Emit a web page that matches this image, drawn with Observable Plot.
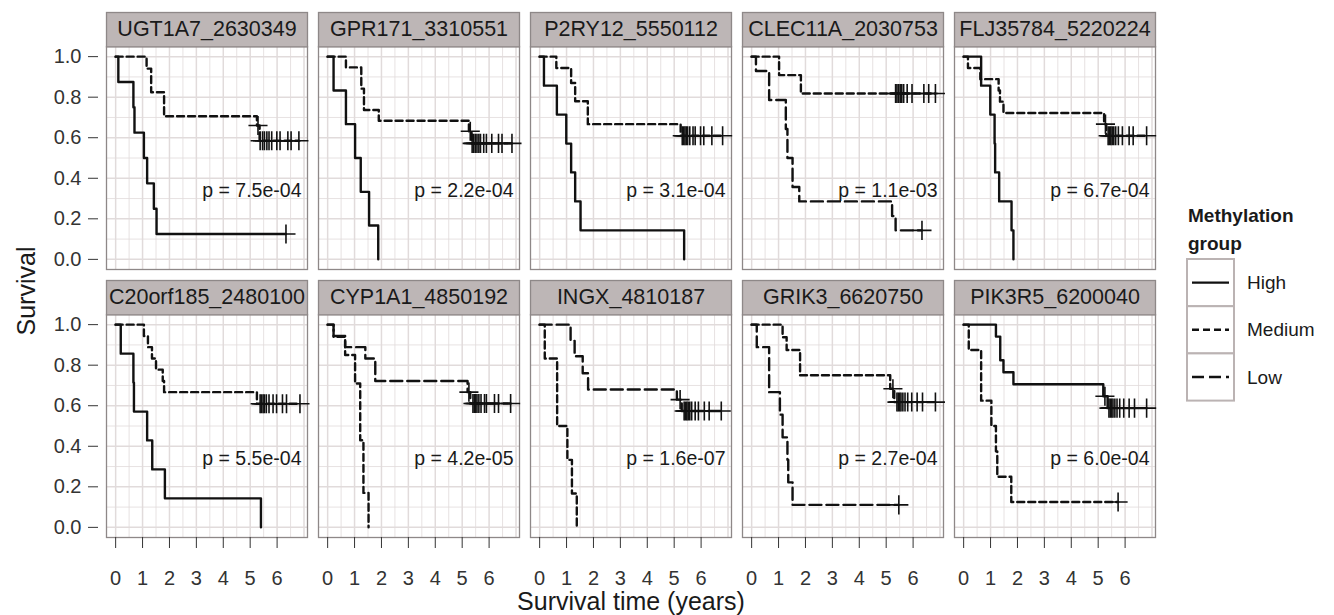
<!DOCTYPE html>
<html><head><meta charset="utf-8">
<script src="https://cdn.jsdelivr.net/npm/d3@7"></script>
<script src="https://cdn.jsdelivr.net/npm/@observablehq/plot@0.6"></script>
<style>
body{margin:0;background:#fff;font-family:"Liberation Sans",Arial,Helvetica,sans-serif;}
#wrap{position:relative;width:1334px;height:615px;overflow:hidden;}
.title{position:absolute;color:#1a1a1a;font-size:25px;white-space:nowrap;}
</style></head><body><div id="wrap"></div>
<script>
// ---------------- data ----------------
const panelNames = ["UGT1A7_2630349","GPR171_3310551","P2RY12_5550112","CLEC11A_2030753","FLJ35784_5220224",
  "C20orf185_2480100","CYP1A1_4850192","INGX_4810187","GRIK3_6620750","PIK3R5_6200040"];
const pLabels = ["p = 7.5e-04","p = 2.2e-04","p = 3.1e-04","p = 1.1e-03","p = 6.7e-04",
  "p = 5.5e-04","p = 4.2e-05","p = 1.6e-07","p = 2.7e-04","p = 6.0e-04"];
const panelGroups = [["High","Medium"],["High","Medium"],["High","Medium"],["Medium","Low"],["High","Medium"],
  ["High","Medium"],["Medium","Low"],["Medium","Low"],["Medium","Low"],["High","Medium"]];
const groups = ["High","Medium","Low"];
const xTicks = [0,1,2,3,4,5,6];
const yTicks = [0,0.2,0.4,0.6,0.8,1.0];

// step points [time (years), survival after the step]; censor times (years)
const ugt1a7High = [[0.1,0.875],[0.66,0.75],[0.7,0.625],[1.05,0.5],[1.17,0.375],[1.42,0.25],[1.52,0.125]];
const ugt1a7HighCens = [6.33];
const ugt1a7Med = [[1.15,0.941],[1.32,0.824],[1.8,0.706],[5.25,0.66],[5.35,0.585]];
const ugt1a7MedCens = [5.29,5.37,5.46,5.53,5.62,5.70,5.80,5.99,6.11,6.40,6.52,6.81];

const gpr171High = [[0.22,0.833],[0.68,0.667],[1.02,0.5],[1.23,0.333],[1.54,0.167],[1.88,0]];
const gpr171HighCens = [];
const gpr171Med = [[0.68,0.947],[1.25,0.842],[1.35,0.737],[1.9,0.684],[5.25,0.632],[5.35,0.572]];
const gpr171MedCens = [5.3,5.37,5.43,5.49,5.55,5.62,5.68,5.8,5.9,6.1,6.35,6.48,6.85];

const p2ry12High = [[0.16,0.857],[0.64,0.714],[0.99,0.571],[1.17,0.429],[1.32,0.286],[1.52,0.143],[5.37,0]];
const p2ry12HighCens = [];
const p2ry12Med = [[0.62,0.944],[1.17,0.87],[1.32,0.78],[1.79,0.667],[5.24,0.61]];
const p2ry12MedCens = [5.3,5.35,5.4,5.45,5.5,5.58,5.7,5.78,5.98,6.1,6.4,6.8];

const clec11aMed = [[1.02,0.909],[1.83,0.818]];
const clec11aMedCens = [5.35,5.4,5.46,5.52,5.58,5.65,5.78,5.96,6.4,6.58,6.83];
const clec11aLow = [[0.16,0.929],[0.65,0.786],[1.27,0.643],[1.33,0.5],[1.52,0.357],[1.77,0.286],[5.22,0.214],[5.35,0.143]];
const clec11aLowCens = [6.33];

const flj35784High = [[0.65,0.857],[0.99,0.714],[1.15,0.571],[1.17,0.429],[1.32,0.286],[1.78,0.143],[1.85,0]];
const flj35784HighCens = [];
const flj35784Med = [[0.16,0.944],[0.62,0.889],[1.3,0.833],[1.35,0.778],[1.48,0.722],[5.22,0.667],[5.3,0.61]];
const flj35784MedCens = [5.27,5.37,5.42,5.47,5.52,5.58,5.65,5.75,5.9,6.15,6.3,6.8];

const c20orf185High = [[0.19,0.857],[0.66,0.714],[0.68,0.571],[1.17,0.429],[1.36,0.286],[1.83,0.143],[5.4,0]];
const c20orf185HighCens = [];
const c20orf185Med = [[1.05,0.944],[1.2,0.889],[1.35,0.833],[1.5,0.778],[1.75,0.722],[1.8,0.667],[5.25,0.61]];
const c20orf185MedCens = [5.37,5.42,5.48,5.53,5.6,5.7,5.85,5.98,6.2,6.35,6.85];

const cyp1a1Med = [[0.22,0.94],[0.65,0.85],[1.02,0.71],[1.21,0.43],[1.33,0.17],[1.52,0]];
const cyp1a1MedCens = [];
const cyp1a1Low = [[0.22,0.944],[0.65,0.889],[1.4,0.833],[1.77,0.722],[5.2,0.667],[5.3,0.611]];
const cyp1a1LowCens = [5.25,5.4,5.45,5.5,5.55,5.62,5.7,5.83,5.9,6.2,6.35,6.8];

const ingxMed = [[0.19,0.833],[0.65,0.5],[1.03,0.333],[1.2,0.167],[1.38,0]];
const ingxMedCens = [];
const ingxLow = [[1.15,0.92],[1.3,0.844],[1.6,0.76],[1.8,0.68],[5.1,0.63],[5.28,0.574]];
const ingxLowCens = [5.22,5.37,5.42,5.47,5.52,5.58,5.65,5.78,5.9,6.12,6.3,6.75];

const grik3Med = [[1.15,0.938],[1.3,0.875],[1.8,0.75],[5.15,0.684],[5.3,0.618]];
const grik3MedCens = [5.25,5.4,5.45,5.5,5.55,5.62,5.7,5.8,5.95,6.15,6.35,6.83];
const grik3Low = [[0.19,0.889],[0.65,0.667],[1.05,0.556],[1.15,0.444],[1.33,0.333],[1.36,0.222],[1.52,0.111]];
const grik3LowCens = [5.47];

const pik3r5High = [[1.2,0.941],[1.36,0.824],[1.48,0.765],[1.85,0.706],[5.19,0.647],[5.35,0.588]];
const pik3r5HighCens = [5.25,5.4,5.45,5.5,5.55,5.62,5.7,5.8,5.95,6.15,6.35,6.8];
const pik3r5Med = [[0.19,0.875],[0.65,0.625],[1.03,0.5],[1.2,0.375],[1.25,0.25],[1.77,0.125]];
const pik3r5MedCens = [5.74];

const panelCurves = [
  [[ugt1a7High, ugt1a7HighCens],[ugt1a7Med, ugt1a7MedCens]],
  [[gpr171High, gpr171HighCens],[gpr171Med, gpr171MedCens]],
  [[p2ry12High, p2ry12HighCens],[p2ry12Med, p2ry12MedCens]],
  [[clec11aMed, clec11aMedCens],[clec11aLow, clec11aLowCens]],
  [[flj35784High, flj35784HighCens],[flj35784Med, flj35784MedCens]],
  [[c20orf185High, c20orf185HighCens],[c20orf185Med, c20orf185MedCens]],
  [[cyp1a1Med, cyp1a1MedCens],[cyp1a1Low, cyp1a1LowCens]],
  [[ingxMed, ingxMedCens],[ingxLow, ingxLowCens]],
  [[grik3Med, grik3MedCens],[grik3Low, grik3LowCens]],
  [[pik3r5High, pik3r5HighCens],[pik3r5Med, pik3r5MedCens]]
];

// ---------------- tables ----------------
function survAt(steps, t){ let s = 1; for (const [ti, si] of steps) if (ti <= t) s = si; return s; }
const panels = panelNames.map((name, i) => ({name, p: pLabels[i], col: i % 5, row: Math.floor(i / 5)}));
const linePts = [], censPts = [];
panelCurves.forEach((curves, i) => {
  const {col, row} = panels[i];
  curves.forEach(([steps, cens], j) => {
    const group = panelGroups[i][j], key = i + "-" + group;
    linePts.push({key, group, col, row, t: 0, s: 1});
    steps.forEach(([t, s]) => linePts.push({key, group, col, row, t, s}));
    const lastT = Math.max(steps[steps.length - 1][0], ...(cens.length ? cens : [0]));
    linePts.push({key, group, col, row, t: lastT, s: steps[steps.length - 1][1]});
    cens.forEach(t => censPts.push({group, col, row, t, s: survAt(steps, t)}));
  });
});

// ---------------- style ----------------
const dash = {High: null, Medium: "7,4", Low: "12,5"};
const W = 1334, H = 615, ML = 105, MR = 177.3, MT = 46, MB = 78.3;
const padY = 0.1697, padX = 0.051;
const bandH = (H - MT - MB) / (2 - padY) * (1 - padY);
const xMajor = d3.range(0, 8, 1), xMinor = d3.range(0.5, 7.5, 1);
const yMajor = yTicks, yMinor = d3.range(0.1, 1.0, 0.2);
const gridCol = "#e1dbdb", borderCol = "#8e8888";

const chart = Plot.plot({
  width: W, height: H,
  marginLeft: ML, marginRight: MR, marginTop: MT, marginBottom: MB,
  style: {fontFamily: "'Liberation Sans', Arial, Helvetica, sans-serif", background: "white"},
  fx: {axis: null, paddingInner: padX, paddingOuter: 0},
  fy: {axis: null, paddingInner: padY, paddingOuter: 0},
  x: {domain: [-0.34, 7.13]},
  y: {domain: [-0.05, 1.05]},
  marks: [
    Plot.ruleX(xMinor, {stroke: gridCol, strokeWidth: 0.8}),
    Plot.ruleY(yMinor, {stroke: gridCol, strokeWidth: 0.8}),
    Plot.ruleX(xMajor, {stroke: gridCol, strokeWidth: 1.5}),
    Plot.ruleY(yMajor, {stroke: gridCol, strokeWidth: 1.5}),
    Plot.frame({stroke: borderCol, strokeWidth: 1.3}),
    ...groups.map(g => Plot.line(linePts.filter(d => d.group === g), {
      x: "t", y: "s", z: "key", fx: "col", fy: "row", curve: "step-after",
      stroke: "#111", strokeWidth: 2.4, strokeDasharray: dash[g]
    })),
    Plot.dot(censPts, {x: "t", y: "s", fx: "col", fy: "row", symbol: "plus", r: 6.2, stroke: "#111", strokeWidth: 1.6, fill: "none"}),
    Plot.text(panels, {fx: "col", fy: "row", text: "p", frameAnchor: "bottom-right", dx: -6, dy: -79,
      lineAnchor: "middle", fontSize: 19.5, fill: "#1a1a1a"}),
    Plot.frame({fill: "#bdb6b6", stroke: borderCol, strokeWidth: 1.3, insetTop: -34, insetBottom: bandH}),
    Plot.text(panels, {fx: "col", fy: "row", text: "name", frameAnchor: "top", dy: -17,
      lineAnchor: "middle", fontSize: 21.5, fill: "#1a1a1a"}),
    Plot.axisY({ticks: yTicks, tickFormat: d3.format(".1f"), tickSize: 10, tickPadding: 7, insetLeft: -8, fontSize: 20,
      label: null, stroke: "#333", fill: "#333"}),
    Plot.axisX({ticks: xTicks, tickFormat: d => String(d), tickSize: 11, tickPadding: 22, fontSize: 20,
      label: null, stroke: "#333", fill: "#333"})
  ]
});

const wrap = document.getElementById("wrap");
wrap.appendChild(chart);

// axis titles
const yt = document.createElement("div");
yt.className = "title"; yt.textContent = "Survival";
yt.style.left = "26px"; yt.style.top = "291px";
yt.style.transform = "translate(-50%,-50%) rotate(-90deg)";
wrap.appendChild(yt);
const xt = document.createElement("div");
xt.className = "title"; xt.textContent = "Survival time (years)";
xt.style.left = "631px"; xt.style.top = "601px"; xt.style.transform = "translate(-50%,-50%)";
wrap.appendChild(xt);

// legend
const leg = d3.create("svg").attr("width", 174).attr("height", 225)
  .style("position", "absolute").style("left", "1160px").style("top", "190px")
  .style("font-family", "'Liberation Sans', Arial, Helvetica, sans-serif");
leg.append("text").attr("x", 28).attr("y", 32).attr("font-weight", "bold").attr("font-size", 19).attr("fill", "#1a1a1a").text("Methylation");
leg.append("text").attr("x", 28).attr("y", 60).attr("font-weight", "bold").attr("font-size", 19).attr("fill", "#1a1a1a").text("group");
const keyTop = 69, keyH = 47.2, keyL = 27, keyW = 47;
groups.forEach((g, i) => {
  const y0 = keyTop + i * keyH;
  leg.append("rect").attr("x", keyL).attr("y", y0).attr("width", keyW).attr("height", keyH)
    .attr("fill", "white").attr("stroke", "#bbb3b3").attr("stroke-width", 2);
  leg.append("line").attr("x1", keyL + 5).attr("x2", keyL + keyW - 5).attr("y1", y0 + keyH / 2).attr("y2", y0 + keyH / 2)
    .attr("stroke", "#111").attr("stroke-width", 2.4).attr("stroke-dasharray", dash[g]);
  leg.append("text").attr("x", 87).attr("y", y0 + keyH / 2).attr("dy", "0.35em").attr("font-size", 19).attr("fill", "#1a1a1a").text(g);
});
wrap.appendChild(leg.node());
</script></body></html>
